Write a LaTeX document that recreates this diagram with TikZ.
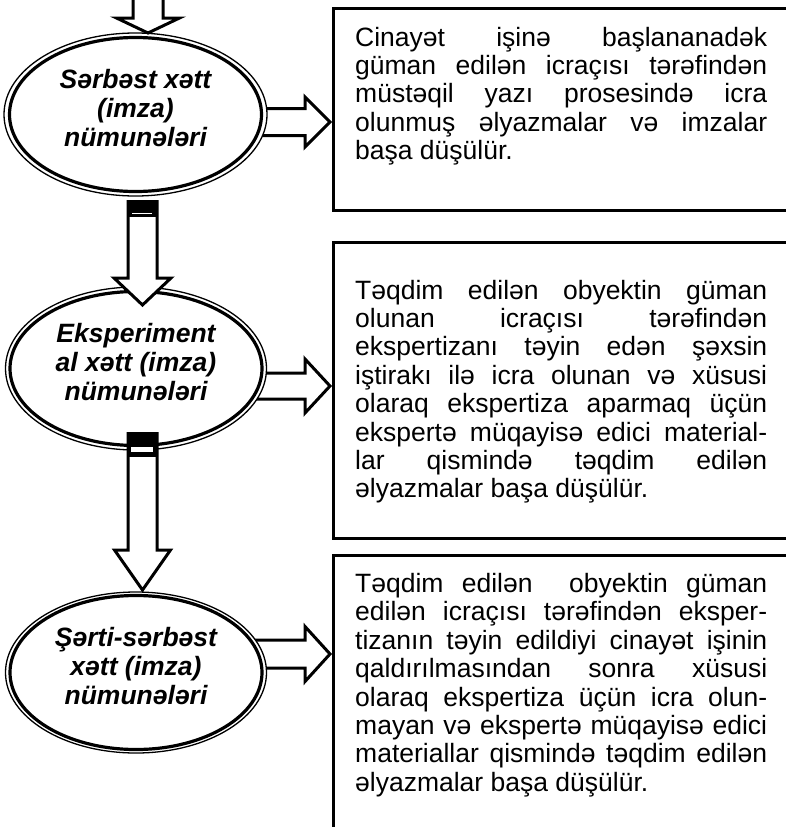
\documentclass[tikz,border=0pt]{standalone}
\usepackage{fontspec}
\setmainfont{Liberation Sans}
\usetikzlibrary{shapes.geometric,calc,backgrounds}
\tolerance=10000
\hbadness=10000
\hyphenpenalty=10000

\tikzset{
  oval/.style={ellipse, draw, line width=3.2pt, fill=white, minimum width=252pt,
    minimum height=154pt, inner sep=0pt, outer sep=0pt, align=center,
    font=\fontsize{26.5}{29}\selectfont\bfseries\itshape, text depth=13pt},
  ovalring/.style={draw, line width=1.3pt, fill=white},
  infobox/.style={draw, line width=3pt, minimum width=470pt, inner sep=0pt,
    outer sep=0pt, anchor=north west},
  boxtext/.style={anchor=north west, inner sep=0pt, text width=412pt,
    align=justify, font=\fontsize{26.5}{28.4}\selectfont},
  blockarrow/.style={draw, line width=3pt, fill=white, line join=miter, miter limit=10},
  stub/.style={fill=black}
}

% block arrow pointing down: top, tip, shaft half, head half, head length
\newcommand{\downblock}[5]{%
  \path[blockarrow] let \p1=(#1), \p2=(#2) in
    (\x2-#3,\y1) -- (\x2-#3,\y2+#5) -- (\x2-#4,\y2+#5) -- (\x2,\y2)
    -- (\x2+#4,\y2+#5) -- (\x2+#3,\y2+#5) -- (\x2+#3,\y1);}
% block arrow pointing right: start, tip, shaft half, head half, head length
\newcommand{\rightblock}[5]{%
  \path[blockarrow] let \p1=(#1), \p2=(#2) in
    (\x1,\y2+#3) -- (\x2-#5,\y2+#3) -- (\x2-#5,\y2+#4) -- (\x2,\y2)
    -- (\x2-#5,\y2-#4) -- (\x2-#5,\y2-#3) -- (\x1,\y2-#3);}

\begin{document}
\begin{tikzpicture}[x=1pt,y=-1pt]
\useasboundingbox (0,0) rectangle (785,827);

% ovals
\node[oval] (sv) at (135.5,114.5) {Sərbəst xətt\\(imza)\\nümunələri};
\node[oval] (eks) at (136,368.5) {Eksperiment\\al xətt (imza)\\nümunələri};
\node[oval] (sert) at (136,672.5) {Şərti-sərbəst\\xətt (imza)\\nümunələri};

% boxes
\node[infobox, minimum height=202pt] (b1) at (333,8) {};
\node[infobox, minimum height=296pt] (b2) at (333,242) {};
\node[infobox, minimum height=300pt] (b3) at (333,555) {};

\node[boxtext] (t1) at (355,26.7) {Cinayət işinə başlananadək\linebreak
  güman edilən icraçısı tərəfindən\linebreak
  müstəqil yazı prosesində icra\linebreak
  olunmuş əlyazmalar və imzalar\linebreak
  başa düşülür.};
\node[boxtext] (t2) at (355,279.7) {Təqdim edilən obyektin güman\linebreak
  olunan icraçısı tərəfindən\linebreak
  ekspertizanı təyin edən şəxsin\linebreak
  iştirakı ilə icra olunan və xüsusi\linebreak
  olaraq ekspertiza aparmaq üçün\linebreak
  ekspertə müqayisə edici material-\linebreak
  lar qismində təqdim edilən\linebreak
  əlyazmalar başa düşülür.};
\node[boxtext] (t3) at (355,573) {Təqdim edilən\ \ obyektin güman\linebreak
  edilən icraçısı tərəfindən eksper-\linebreak
  tizanın təyin edildiyi cinayət işinin\linebreak
  qaldırılmasından sonra xüsusi\linebreak
  olaraq ekspertiza üçün icra olun-\linebreak
  mayan və ekspertə müqayisə edici\linebreak
  materiallar qismində təqdim edilən\linebreak
  əlyazmalar başa düşülür.};

\coordinate (top) at (147.5,-5);
\coordinate (a0) at ($(sv.north)+(12.5,-4.5)$);
\coordinate (a1) at ($(sv.south)+(7,8.5)$);
\coordinate (a2) at ($(eks.north)+(6.5,13.5)$);
\coordinate (a3) at ($(eks.south)+(6.5,-13.5)$);
\coordinate (a4) at ($(sert.north)+(6.5,-5.5)$);
\coordinate (r1) at ($(b1.west)+(-3,13)$);
\coordinate (r2) at ($(b2.west)+(-3,-4)$);
\coordinate (r3) at ($(b3.west)+(-3,-51)$);

% right arrows and outer rings behind the ovals
\begin{scope}[on background layer]
\rightblock{sv.center}{r1}{13.5pt}{25pt}{25pt}
\rightblock{eks.center}{r2}{13pt}{27pt}{25pt}
\rightblock{sert.center}{r3}{14pt}{27.5pt}{25pt}
\draw[ovalring] (sv.center) ellipse [x radius=131.5, y radius=81.5];
\draw[ovalring] (eks.center) ellipse [x radius=130.5, y radius=81.5];
\draw[ovalring] (sert.center) ellipse [x radius=130.5, y radius=80.5];
\end{scope}

% down arrows
\downblock{top}{a0}{15pt}{31.5pt}{15pt}
\downblock{a1}{a2}{14.5pt}{28.5pt}{27pt}
\downblock{a3}{a4}{14.5pt}{28pt}{40pt}
\fill[stub] ($(a1)+(-15.5,0)$) rectangle ++(30,17);
\fill[white] ($(a1)+(-10.5,12.5)$) rectangle ++(20,1.5);
\fill[stub] ($(a3)+(-15.5,0)$) rectangle ++(30,25);
\fill[white] ($(a3)+(-11.5,15)$) rectangle ++(22,5);
\end{tikzpicture}
\end{document}
